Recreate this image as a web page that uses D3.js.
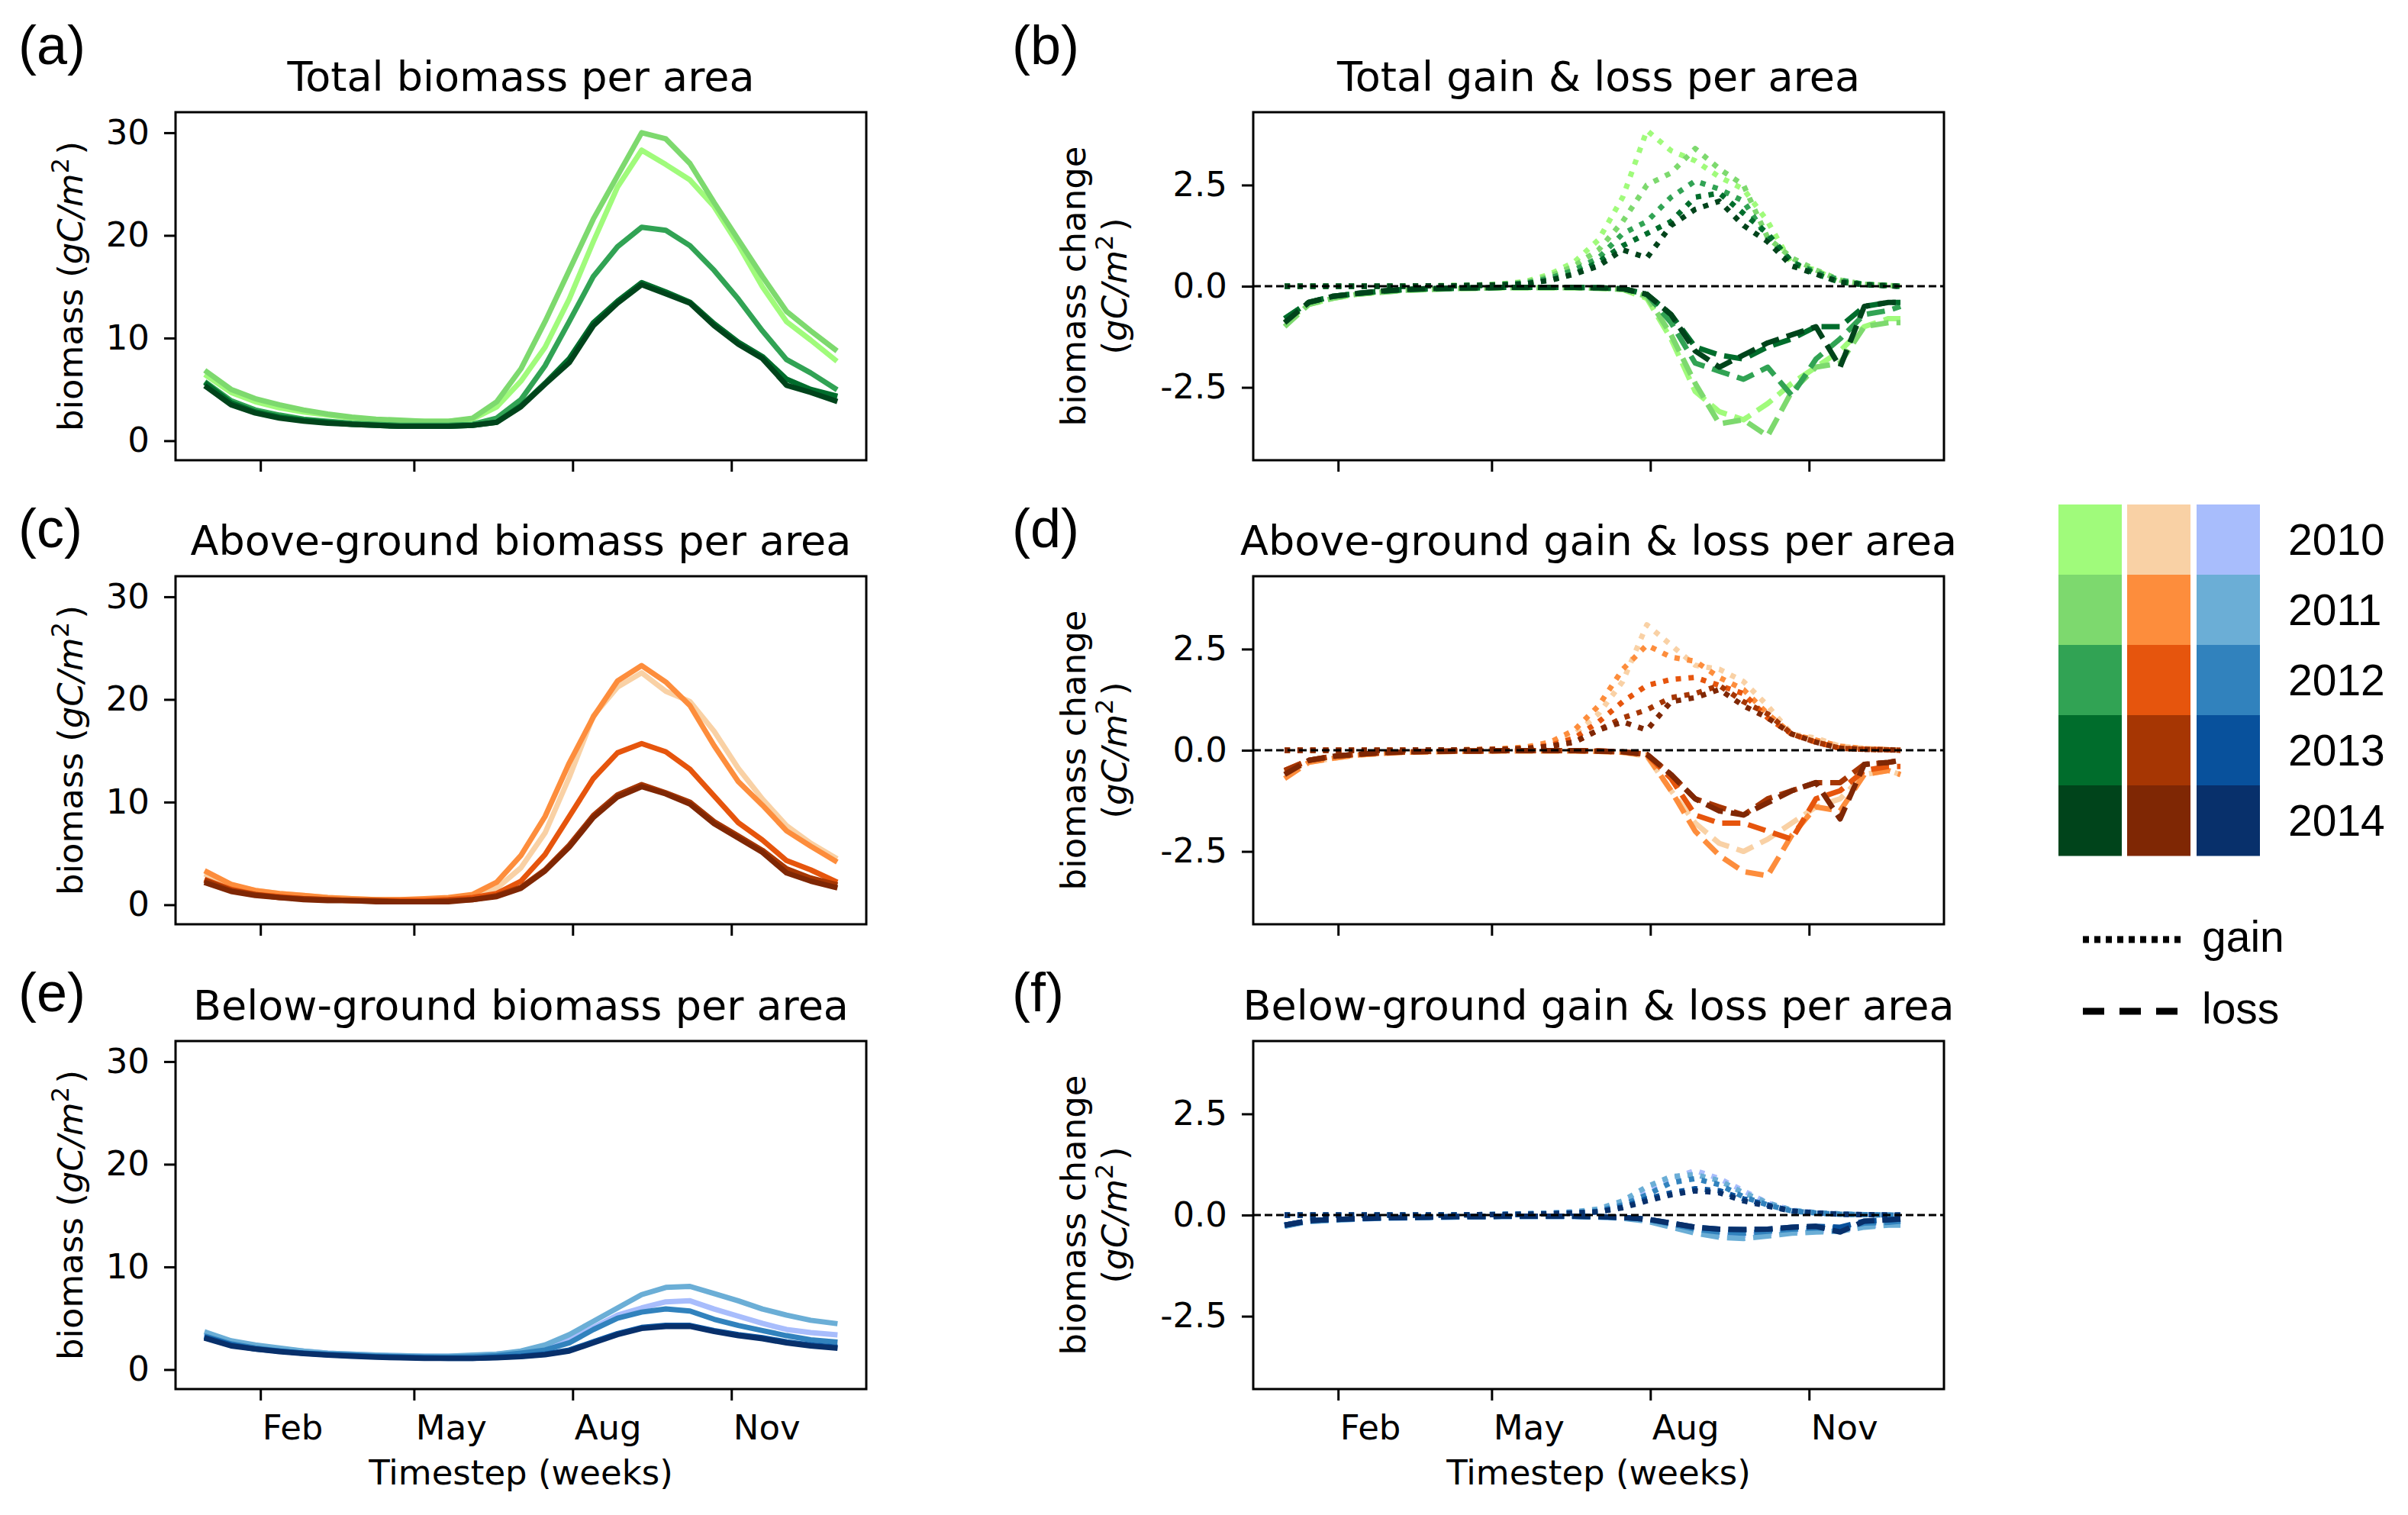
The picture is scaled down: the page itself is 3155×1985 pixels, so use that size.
<!DOCTYPE html>
<html>
<head>
<meta charset="utf-8">
<script src="https://cdn.jsdelivr.net/npm/d3@7"></script>
<style>
  body { margin: 0; background: #fff; }
</style>
</head>
<body>
<div id="chart"></div>
<script>
// --- Data ---
const years = [2010, 2011, 2012, 2013, 2014];
const greens = ["#a0fb7b", "#7dd96e", "#31a354", "#006d2c", "#00441b"];
const oranges = ["#f9d1a5", "#fd8d3c", "#e6550d", "#a63603", "#7f2704"];
const blues = ["#a8bdfc", "#6baed6", "#3182bd", "#08519c", "#08306b"];

const biomassDates = ["2013-01-01", "2013-01-15", "2013-01-29", "2013-02-12", "2013-02-26", "2013-03-12", "2013-03-26",
  "2013-04-09", "2013-04-23", "2013-05-07", "2013-05-21", "2013-06-04", "2013-06-18", "2013-07-02", "2013-07-16",
  "2013-07-30", "2013-08-13", "2013-08-27", "2013-09-10", "2013-09-24", "2013-10-08", "2013-10-22", "2013-11-05",
  "2013-11-19", "2013-12-03", "2013-12-17", "2013-12-31"];
const changeDates = ["2013-01-01", "2013-01-15", "2013-01-29", "2013-02-12", "2013-02-26", "2013-03-12", "2013-03-26",
  "2013-04-09", "2013-04-23", "2013-05-07", "2013-05-21", "2013-06-04", "2013-06-18", "2013-07-02", "2013-07-16",
  "2013-07-30", "2013-08-13", "2013-08-27", "2013-09-10", "2013-09-24", "2013-10-08", "2013-10-22", "2013-11-05",
  "2013-11-19", "2013-12-03", "2013-12-17", "2013-12-24"];

const monthTicks = ["2013-02-01", "2013-05-01", "2013-08-01", "2013-11-01"];
const monthLabels = ["Feb", "May", "Aug", "Nov"];
const biomassTicks = [0, 10, 20, 30];
const changeTicks = [-2.5, 0, 2.5];

// total biomass (gC/m2), one row per year
const totalBiomass = [
  [6.3, 4.7, 3.8, 3.2, 2.8, 2.5, 2.2, 2.0, 1.9, 1.9, 1.9, 2.1, 3.3, 5.8, 9.1, 13.8, 19.4, 24.7, 28.3, 26.9, 25.4, 22.8, 19.1, 15.0, 11.6, 9.8, 7.9],
  [6.7, 5.0, 4.1, 3.5, 3.0, 2.6, 2.3, 2.1, 2.0, 1.9, 1.9, 2.2, 3.8, 7.0, 11.6, 16.6, 21.6, 25.8, 30.0, 29.4, 27.0, 23.2, 19.6, 16.0, 12.6, 10.7, 8.9],
  [5.6, 3.9, 3.0, 2.5, 2.1, 1.9, 1.7, 1.6, 1.5, 1.5, 1.5, 1.6, 2.2, 4.0, 7.3, 11.6, 16.0, 18.9, 20.8, 20.5, 19.0, 16.6, 13.8, 10.7, 7.9, 6.6, 5.1],
  [5.5, 3.7, 2.8, 2.3, 2.0, 1.8, 1.6, 1.5, 1.4, 1.4, 1.4, 1.5, 1.8, 3.4, 5.6, 8.0, 11.5, 13.6, 15.4, 14.5, 13.5, 11.4, 9.6, 8.2, 6.0, 5.0, 4.4],
  [5.2, 3.5, 2.7, 2.2, 1.9, 1.7, 1.6, 1.5, 1.4, 1.4, 1.4, 1.5, 1.8, 3.3, 5.5, 7.6, 11.2, 13.4, 15.2, 14.3, 13.4, 11.2, 9.4, 8.0, 5.4, 4.7, 3.9]
];
const aboveBiomass = [
  [2.9, 1.9, 1.4, 1.1, 0.9, 0.7, 0.6, 0.5, 0.5, 0.5, 0.6, 0.8, 1.6, 3.6, 7.0, 12.4, 18.4, 21.2, 22.6, 20.8, 19.8, 16.9, 13.3, 10.3, 7.7, 6.0, 4.6],
  [3.2, 2.0, 1.4, 1.1, 0.9, 0.7, 0.6, 0.5, 0.5, 0.6, 0.7, 1.0, 2.2, 4.8, 8.6, 13.8, 18.3, 21.8, 23.3, 21.7, 19.4, 15.5, 12.0, 9.7, 7.2, 5.7, 4.3],
  [2.4, 1.5, 1.0, 0.8, 0.6, 0.5, 0.4, 0.4, 0.4, 0.4, 0.5, 0.7, 1.1, 2.3, 4.9, 8.6, 12.3, 14.8, 15.7, 14.9, 13.2, 10.6, 8.0, 6.3, 4.3, 3.4, 2.3],
  [2.3, 1.4, 1.0, 0.7, 0.6, 0.5, 0.4, 0.4, 0.3, 0.3, 0.4, 0.5, 0.9, 1.7, 3.4, 5.8, 8.7, 10.7, 11.7, 10.9, 10.0, 8.1, 6.7, 5.3, 3.5, 2.6, 2.0],
  [2.1, 1.3, 0.9, 0.7, 0.5, 0.4, 0.4, 0.3, 0.3, 0.3, 0.3, 0.5, 0.8, 1.6, 3.3, 5.6, 8.5, 10.5, 11.5, 10.8, 9.8, 7.9, 6.5, 5.1, 3.1, 2.3, 1.7]
];
const belowBiomass = [
  [3.4, 2.7, 2.3, 2.0, 1.8, 1.6, 1.5, 1.4, 1.35, 1.3, 1.3, 1.35, 1.5, 1.7, 2.0, 2.9, 4.1, 5.3, 6.0, 6.6, 6.7, 5.9, 5.2, 4.5, 3.9, 3.6, 3.4],
  [3.6, 2.8, 2.4, 2.1, 1.8, 1.6, 1.5, 1.4, 1.35, 1.3, 1.3, 1.4, 1.5, 1.8, 2.4, 3.4, 4.7, 6.0, 7.3, 8.0, 8.1, 7.4, 6.7, 5.9, 5.3, 4.8, 4.5],
  [3.2, 2.5, 2.1, 1.8, 1.6, 1.5, 1.4, 1.3, 1.25, 1.2, 1.2, 1.25, 1.35, 1.6, 1.9, 2.6, 3.9, 5.0, 5.6, 5.9, 5.7, 4.9, 4.3, 3.8, 3.3, 2.9, 2.7],
  [3.1, 2.4, 2.0, 1.8, 1.6, 1.45, 1.35, 1.25, 1.2, 1.15, 1.1, 1.1, 1.2, 1.3, 1.5, 1.9, 2.7, 3.5, 4.1, 4.3, 4.3, 3.8, 3.4, 3.1, 2.7, 2.4, 2.2],
  [3.0, 2.3, 2.0, 1.75, 1.55, 1.4, 1.3, 1.2, 1.15, 1.1, 1.1, 1.1, 1.15, 1.25, 1.45, 1.8, 2.6, 3.4, 4.0, 4.2, 4.2, 3.7, 3.3, 3.0, 2.6, 2.3, 2.1]
];

// gain & loss (gC/m2 per week)
const totalGain = [
  [0, 0, 0, 0, 0, 0.01, 0.01, 0.02, 0.03, 0.05, 0.12, 0.3, 0.6, 1.15, 2.2, 3.85, 3.35, 3.1, 2.7, 2.4, 1.6, 0.55, 0.4, 0.1, 0.05, 0.02, 0],
  [0, 0, 0, 0, 0, 0.01, 0.01, 0.02, 0.03, 0.06, 0.1, 0.25, 0.5, 0.9, 1.6, 2.5, 2.8, 3.4, 2.9, 2.5, 1.2, 0.7, 0.4, 0.15, 0.05, 0.02, 0],
  [0, 0, 0, 0, 0, 0, 0.01, 0.01, 0.02, 0.04, 0.08, 0.2, 0.4, 0.7, 1.3, 1.6, 2.2, 2.6, 2.4, 2.1, 1.2, 0.6, 0.35, 0.15, 0.05, 0.02, 0],
  [0, 0, 0, 0, 0, 0, 0.01, 0.01, 0.02, 0.03, 0.06, 0.15, 0.3, 0.6, 1.0, 1.3, 1.6, 2.2, 2.3, 1.8, 1.3, 0.6, 0.3, 0.1, 0.04, 0.01, 0],
  [0, 0, 0, 0, 0, 0, 0.01, 0.01, 0.02, 0.03, 0.06, 0.15, 0.3, 0.5, 0.9, 0.7, 1.5, 1.9, 2.1, 1.5, 1.1, 0.5, 0.3, 0.1, 0.04, 0.01, 0]
];
const totalLoss = [
  [-0.9, -0.45, -0.3, -0.2, -0.15, -0.1, -0.08, -0.06, -0.05, -0.04, -0.04, -0.04, -0.04, -0.05, -0.08, -0.3, -1.3, -2.6, -3.1, -3.3, -2.9, -2.4, -2.0, -1.6, -1.0, -0.8, -0.8],
  [-1.0, -0.45, -0.3, -0.2, -0.15, -0.1, -0.08, -0.06, -0.05, -0.04, -0.04, -0.04, -0.04, -0.05, -0.08, -0.25, -1.2, -2.4, -3.4, -3.3, -3.7, -2.6, -2.0, -1.9, -1.0, -0.9, -0.9],
  [-0.8, -0.4, -0.25, -0.18, -0.13, -0.09, -0.07, -0.05, -0.04, -0.03, -0.03, -0.03, -0.03, -0.04, -0.06, -0.2, -0.9, -1.9, -2.1, -2.3, -2.0, -2.7, -1.8, -1.3, -0.7, -0.6, -0.5],
  [-0.8, -0.4, -0.25, -0.18, -0.12, -0.08, -0.06, -0.05, -0.04, -0.03, -0.03, -0.03, -0.03, -0.04, -0.06, -0.2, -0.7, -1.5, -1.7, -1.8, -1.5, -1.3, -1.0, -1.0, -0.5, -0.4, -0.4],
  [-0.9, -0.4, -0.25, -0.18, -0.12, -0.08, -0.06, -0.05, -0.04, -0.03, -0.03, -0.03, -0.03, -0.04, -0.06, -0.2, -0.7, -1.6, -2.0, -1.7, -1.4, -1.2, -1.0, -2.0, -0.5, -0.4, -0.4]
];
const aboveGain = [
  [0, 0, 0, 0, 0, 0.01, 0.01, 0.01, 0.02, 0.03, 0.05, 0.15, 0.4, 0.9, 1.7, 3.1, 2.6, 2.1, 2.0, 1.7, 1.1, 0.4, 0.3, 0.1, 0.05, 0.02, 0],
  [0, 0, 0, 0, 0, 0.01, 0.01, 0.01, 0.02, 0.04, 0.08, 0.2, 0.5, 1.1, 2.0, 2.6, 2.3, 2.2, 1.8, 1.5, 0.9, 0.4, 0.25, 0.1, 0.04, 0.02, 0],
  [0, 0, 0, 0, 0, 0, 0.01, 0.01, 0.01, 0.02, 0.05, 0.12, 0.3, 0.7, 1.2, 1.6, 1.75, 1.8, 1.6, 1.4, 0.8, 0.4, 0.2, 0.05, 0.03, 0.01, 0],
  [0, 0, 0, 0, 0, 0, 0.01, 0.01, 0.01, 0.02, 0.04, 0.1, 0.2, 0.5, 0.8, 1.0, 1.3, 1.4, 1.6, 1.2, 0.9, 0.4, 0.2, 0.05, 0.02, 0.01, 0],
  [0, 0, 0, 0, 0, 0, 0.01, 0.01, 0.01, 0.02, 0.04, 0.1, 0.2, 0.5, 0.7, 0.5, 1.2, 1.3, 1.5, 1.1, 0.8, 0.4, 0.2, 0.05, 0.02, 0.01, 0]
];
const aboveLoss = [
  [-0.55, -0.3, -0.2, -0.12, -0.08, -0.05, -0.04, -0.03, -0.02, -0.02, -0.02, -0.02, -0.02, -0.03, -0.05, -0.15, -1.0, -1.8, -2.3, -2.5, -2.2, -1.8, -1.4, -1.2, -0.6, -0.5, -0.6],
  [-0.7, -0.3, -0.2, -0.12, -0.08, -0.05, -0.04, -0.03, -0.02, -0.02, -0.02, -0.02, -0.02, -0.03, -0.05, -0.12, -1.0, -2.0, -2.6, -3.0, -3.1, -2.1, -1.4, -1.5, -0.6, -0.5, -0.6],
  [-0.5, -0.25, -0.15, -0.1, -0.07, -0.04, -0.03, -0.02, -0.02, -0.01, -0.01, -0.01, -0.01, -0.02, -0.04, -0.1, -0.7, -1.6, -1.8, -1.8, -2.0, -2.2, -1.2, -1.0, -0.5, -0.4, -0.4],
  [-0.5, -0.25, -0.15, -0.1, -0.06, -0.04, -0.03, -0.02, -0.02, -0.01, -0.01, -0.01, -0.01, -0.02, -0.04, -0.1, -0.6, -1.2, -1.4, -1.6, -1.2, -1.0, -0.8, -0.8, -0.35, -0.3, -0.25],
  [-0.6, -0.25, -0.15, -0.1, -0.06, -0.04, -0.03, -0.02, -0.02, -0.01, -0.01, -0.01, -0.01, -0.02, -0.04, -0.1, -0.6, -1.2, -1.5, -1.6, -1.3, -1.0, -0.8, -1.7, -0.35, -0.3, -0.25]
];
const belowGain = [
  [0, 0, 0, 0, 0, 0, 0, 0.01, 0.01, 0.02, 0.03, 0.05, 0.08, 0.12, 0.3, 0.6, 0.9, 1.1, 0.9, 0.6, 0.3, 0.12, 0.06, 0.03, 0.01, 0, 0],
  [0, 0, 0, 0, 0, 0, 0, 0.01, 0.01, 0.02, 0.03, 0.05, 0.08, 0.15, 0.35, 0.7, 0.95, 1.0, 0.85, 0.55, 0.3, 0.12, 0.06, 0.03, 0.01, 0, 0],
  [0, 0, 0, 0, 0, 0, 0, 0.01, 0.01, 0.02, 0.03, 0.04, 0.06, 0.1, 0.25, 0.5, 0.8, 0.9, 0.75, 0.45, 0.25, 0.1, 0.05, 0.02, 0.01, 0, 0],
  [0, 0, 0, 0, 0, 0, 0, 0, 0.01, 0.01, 0.02, 0.03, 0.05, 0.08, 0.2, 0.4, 0.55, 0.65, 0.6, 0.4, 0.25, 0.1, 0.05, 0.02, 0.01, 0, 0],
  [0, 0, 0, 0, 0, 0, 0, 0, 0.01, 0.01, 0.02, 0.03, 0.05, 0.08, 0.18, 0.35, 0.5, 0.6, 0.55, 0.35, 0.22, 0.1, 0.05, 0.02, 0.01, 0, 0]
];
const belowLoss = [
  [-0.25, -0.15, -0.12, -0.1, -0.08, -0.07, -0.06, -0.05, -0.04, -0.04, -0.04, -0.04, -0.04, -0.05, -0.07, -0.12, -0.25, -0.4, -0.5, -0.5, -0.45, -0.4, -0.38, -0.38, -0.28, -0.22, -0.22],
  [-0.28, -0.16, -0.13, -0.1, -0.08, -0.07, -0.06, -0.05, -0.04, -0.04, -0.04, -0.04, -0.04, -0.05, -0.08, -0.15, -0.3, -0.45, -0.55, -0.58, -0.52, -0.45, -0.42, -0.4, -0.3, -0.25, -0.25],
  [-0.25, -0.14, -0.11, -0.09, -0.07, -0.06, -0.05, -0.04, -0.04, -0.03, -0.03, -0.03, -0.03, -0.04, -0.06, -0.1, -0.22, -0.35, -0.42, -0.45, -0.4, -0.35, -0.32, -0.32, -0.2, -0.18, -0.15],
  [-0.25, -0.14, -0.11, -0.09, -0.07, -0.06, -0.05, -0.04, -0.04, -0.03, -0.03, -0.03, -0.03, -0.04, -0.06, -0.1, -0.2, -0.3, -0.35, -0.36, -0.35, -0.3, -0.28, -0.3, -0.15, -0.12, -0.1],
  [-0.25, -0.14, -0.11, -0.09, -0.07, -0.06, -0.05, -0.04, -0.04, -0.03, -0.03, -0.03, -0.03, -0.04, -0.06, -0.1, -0.2, -0.3, -0.35, -0.36, -0.35, -0.3, -0.28, -0.42, -0.15, -0.12, -0.1]
];

// --- Layout ---
const width = 3155, height = 1985;
const colLeft = [230, 1642];
const rowTop = [147, 755, 1364];
const axW = 905, axH = 456;
const mplFont = "'DejaVu Sans', sans-serif";
const labelFont = "'Liberation Sans', Arial, sans-serif";
const lw = 7;

const svg = d3.select("#chart").append("svg")
    .attr("width", width)
    .attr("height", height)
    .style("background", "#fff");

const parseDate = d3.utcParse("%Y-%m-%d");
const bDates = biomassDates.map(parseDate);
const cDates = changeDates.map(parseDate);
const ext = d3.extent(bDates.concat(cDates));
const pad = (ext[1] - ext[0]) * 0.05;
const xDomain = [new Date(+ext[0] - pad), new Date(+ext[1] + pad)];

const panels = [
    { label: "(a)", title: "Total biomass per area", col: 0, row: 0, kind: "biomass", series: totalBiomass, colors: greens },
    { label: "(b)", title: "Total gain & loss per area", col: 1, row: 0, kind: "change", gain: totalGain, loss: totalLoss, colors: greens },
    { label: "(c)", title: "Above-ground biomass per area", col: 0, row: 1, kind: "biomass", series: aboveBiomass, colors: oranges },
    { label: "(d)", title: "Above-ground gain & loss per area", col: 1, row: 1, kind: "change", gain: aboveGain, loss: aboveLoss, colors: oranges },
    { label: "(e)", title: "Below-ground biomass per area", col: 0, row: 2, kind: "biomass", series: belowBiomass, colors: blues },
    { label: "(f)", title: "Below-ground gain & loss per area", col: 1, row: 2, kind: "change", gain: belowGain, loss: belowLoss, colors: blues }
];
const labelBase = [84, 717, 1325];

panels.forEach(drawPanel);
drawLegend();

function drawPanel(p) {
    const g = svg.append("g")
        .attr("transform", `translate(${colLeft[p.col]},${rowTop[p.row]})`);

    const x = d3.scaleUtc().domain(xDomain).range([0, axW]);
    const y = d3.scaleLinear()
        .domain(p.kind === "biomass" ? [-1.9, 32] : [-4.3, 4.3])
        .range([axH, 0]);

    const line = dates => d3.line()
        .x((d, i) => x(dates[i]))
        .y(d => y(d));

    if (p.kind === "biomass") {
        p.series.forEach((vals, k) => {
            g.append("path")
                .datum(vals)
                .attr("d", line(bDates))
                .attr("fill", "none")
                .attr("stroke", p.colors[k])
                .attr("stroke-width", lw)
                .attr("stroke-linejoin", "round")
                .attr("stroke-linecap", "square");
        });
    } else {
        years.forEach((yr, k) => {
            // gain: dotted
            g.append("path")
                .datum(p.gain[k])
                .attr("d", line(cDates))
                .attr("fill", "none")
                .attr("stroke", p.colors[k])
                .attr("stroke-width", lw)
                .attr("stroke-dasharray", `${lw},${lw * 1.4}`)
                .attr("stroke-linejoin", "round");
            // loss: dashed
            g.append("path")
                .datum(p.loss[k])
                .attr("d", line(cDates))
                .attr("fill", "none")
                .attr("stroke", p.colors[k])
                .attr("stroke-width", lw)
                .attr("stroke-dasharray", `${lw * 3.4},${lw * 1.5}`)
                .attr("stroke-linejoin", "round");
        });
        // zero line
        g.append("line")
            .attr("x1", 0).attr("x2", axW)
            .attr("y1", y(0)).attr("y2", y(0))
            .attr("stroke", "#000")
            .attr("stroke-width", 2.8)
            .attr("stroke-dasharray", "10,5");
    }

    // frame
    g.append("rect")
        .attr("width", axW).attr("height", axH)
        .attr("fill", "none")
        .attr("stroke", "#000")
        .attr("stroke-width", 3);

    // y axis
    const yAxis = g.append("g").call(
        d3.axisLeft(y)
            .tickValues(p.kind === "biomass" ? biomassTicks : changeTicks)
            .tickSize(15).tickPadding(19)
            .tickFormat(d => p.kind === "biomass" ? d : d.toFixed(1)));
    styleAxis(yAxis);

    // x axis
    const xAxis = g.append("g")
        .attr("transform", `translate(0,${axH})`)
        .call(d3.axisBottom(x)
            .tickValues(monthTicks.map(parseDate))
            .tickSize(15).tickPadding(19)
            .tickFormat((d, i) => p.row === 2 ? monthLabels[i] : ""));
    styleAxis(xAxis);
    xAxis.selectAll("text").attr("text-anchor", "start").attr("x", 2);

    // title
    g.append("text")
        .attr("x", axW / 2).attr("y", -28)
        .attr("text-anchor", "middle")
        .style("font-family", mplFont)
        .style("font-size", "54px")
        .text(p.title);

    // panel letter
    svg.append("text")
        .attr("x", p.col === 0 ? 24 : 1326)
        .attr("y", labelBase[p.row])
        .style("font-family", labelFont)
        .style("font-size", "72px")
        .text(p.label);

    // y label
    if (p.kind === "biomass") {
        const t = g.append("text")
            .attr("transform", `translate(-122,${axH / 2}) rotate(-90)`)
            .attr("text-anchor", "middle")
            .style("font-family", mplFont)
            .style("font-size", "45px");
        t.append("tspan").text("biomass (");
        unitSpans(t);
        t.append("tspan").text(")");
    } else {
        g.append("text")
            .attr("transform", `translate(-220,${axH / 2}) rotate(-90)`)
            .attr("text-anchor", "middle")
            .style("font-family", mplFont)
            .style("font-size", "45px")
            .text("biomass change");
        const t = g.append("text")
            .attr("transform", `translate(-166,${axH / 2}) rotate(-90)`)
            .attr("text-anchor", "middle")
            .style("font-family", mplFont)
            .style("font-size", "45px");
        t.append("tspan").text("(");
        unitSpans(t);
        t.append("tspan").text(")");
    }

    // x label
    if (p.row === 2) {
        g.append("text")
            .attr("x", axW / 2).attr("y", axH + 125)
            .attr("text-anchor", "middle")
            .style("font-family", mplFont)
            .style("font-size", "45px")
            .text("Timestep (weeks)");
    }
}

function unitSpans(t) {
    t.append("tspan").style("font-style", "italic").text("gC/m");
    t.append("tspan").attr("dy", -18).style("font-size", "32px").text("2");
    t.append("tspan").attr("dy", 18).text("\u200a");
}

function styleAxis(ax) {
    ax.select(".domain").remove();
    ax.selectAll(".tick line").attr("stroke", "#000").attr("stroke-width", 3);
    ax.selectAll("text")
        .attr("fill", "#000")
        .style("font-family", mplFont)
        .style("font-size", "45px");
}

function drawLegend() {
    const cols = [greens, oranges, blues];
    const colX = [2697, 2787, 2878];
    const boxW = 83, boxH = 92, top = 661;
    const lg = svg.append("g");
    cols.forEach((c, ci) => {
        lg.selectAll(null)
            .data(c)
            .enter().append("rect")
            .attr("x", colX[ci])
            .attr("y", (d, i) => top + i * boxH)
            .attr("width", boxW)
            .attr("height", boxH + 0.5)
            .attr("fill", d => d);
    });
    lg.selectAll(null)
        .data(years)
        .enter().append("text")
        .attr("x", 2998)
        .attr("y", (d, i) => top + i * boxH + boxH / 2 + 20)
        .style("font-family", labelFont)
        .style("font-size", "57px")
        .text(d => d);

    const styles = [
        { name: "gain", y: 1231, dash: "8,7" },
        { name: "loss", y: 1325, dash: "28,20" }
    ];
    styles.forEach(s => {
        lg.append("line")
            .attr("x1", 2729).attr("x2", 2861)
            .attr("y1", s.y).attr("y2", s.y)
            .attr("stroke", "#000")
            .attr("stroke-width", 9)
            .attr("stroke-dasharray", s.dash);
        lg.append("text")
            .attr("x", 2885).attr("y", s.y + 16)
            .style("font-family", labelFont)
            .style("font-size", "57px")
            .text(s.name);
    });
}
</script>
</body>
</html>
